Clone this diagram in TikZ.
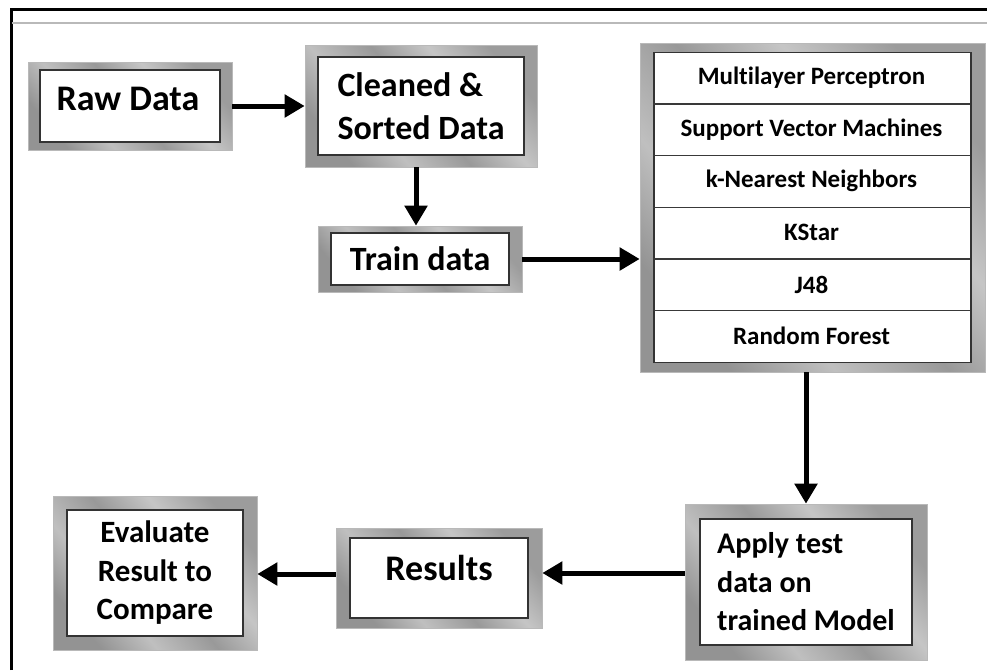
\documentclass[tikz,border=0pt]{standalone}
\usepackage{fontspec}
\setmainfont{Carlito}[Ligatures=NoCommon]
\usetikzlibrary{arrows.meta,calc}
\pgfdeclarehorizontalshading{metal}{100bp}{color(0bp)=(gray!85); color(25bp)=(gray!85); color(37bp)=(gray!50); color(50bp)=(gray!80); color(62bp)=(gray!45); color(75bp)=(gray!78); color(100bp)=(gray!78)}
\tikzset{
  bevel/.style 2 args={shade, shading=metal, shading angle=40, draw=gray!55, line width=0.6pt, inner sep=0pt,
    path picture={\draw[fill=white, draw=gray!40!black, line width=1.4pt]
      ($(path picture bounding box.south west)+(#1,-#2)$) rectangle
      ($(path picture bounding box.north east)+(-#1,#2)$);}},
  bigtxt/.style={font=\bfseries\fontsize{34}{43}\selectfont},
  hugetxt/.style={font=\bfseries\fontsize{36}{43}\selectfont},
  midtxt/.style={font=\bfseries\fontsize{31}{38.5}\selectfont},
  aptxt/.style={font=\bfseries\fontsize{30}{38.5}\selectfont},
  rowtxt/.style={font=\bfseries\fontsize{25}{28}\selectfont, minimum width=317pt, minimum height=51.67pt, inner sep=0pt},
  arr/.style={line width=5pt, -{Triangle[length=20pt,width=22pt]}},
  sep/.style={draw=gray!45!black, line width=1.4pt}
}
\begin{document}
\begin{tikzpicture}[x=1pt,y=-1pt]
\useasboundingbox (0,0) rectangle (987,670);
% page frame
\draw[line width=3pt] (11,670) -- (11,9) -- (987,9);
\draw[gray!55, line width=2pt] (12,23) -- (987,23);
% boxes
\node[bevel={12}{8}, minimum width=204pt, minimum height=88pt] (raw) at (130,106) {};
\node[hugetxt, inner sep=0pt] (rawt) at (128,99) {Raw Data};
\node[bevel={13}{12}, minimum width=232pt, minimum height=122pt, bigtxt, align=left] (clean) at (421,106) {Cleaned \&\\Sorted Data};
\node[bevel={13}{7}, minimum width=204pt, minimum height=66pt, bigtxt] (train) at (420,259) {Train data};
\node[bevel={14}{9.5}, minimum width=345pt, minimum height=329pt] (algs) at (812.5,207.5) {};
\node[bevel={15}{15}, minimum width=242pt, minimum height=156pt, aptxt, align=left] (apply) at (806,582) {Apply test\\data on\\trained Model};
\node[bevel={14}{10}, minimum width=206pt, minimum height=100pt] (results) at (439,578) {};
\node[hugetxt, inner sep=0pt] (rest) at (439,568) {Results};
\node[bevel={14}{14}, minimum width=204pt, minimum height=154pt, midtxt, align=center] (eval) at (155,573) {Evaluate\\Result to\\Compare};
% algorithm rows
\node[rowtxt] (r1) at (811.5,77.8) {Multilayer Perceptron};
\node[rowtxt] (r2) at (811.5,129.5) {Support Vector Machines};
\node[rowtxt] (r3) at (811.5,181.2) {k-Nearest Neighbors};
\node[rowtxt] (r4) at (811.5,232.8) {KStar};
\node[rowtxt] (r5) at (811.5,284.5) {J48};
\node[rowtxt] (r6) at (811.5,336.2) {Random Forest};
\foreach \r in {r1,r2,r3,r4,r5}{\draw[sep] (\r.south west) -- (\r.south east);}
% connectors
\draw[arr] (raw.east) -- (clean.west);
\coordinate (c1) at ([xshift=-5pt]clean.south);
\draw[arr] (c1) -- (c1 |- train.north);
\draw[arr] (train.east) -- (train.east -| algs.west);
\draw[arr] (apply.north |- algs.south) -- (apply.north);
\coordinate (a1) at ([yshift=9pt]apply.west);
\draw[arr] (a1) -- (a1 -| results.east);
\coordinate (a2) at ([yshift=4pt]results.west);
\draw[arr] (a2) -- (a2 -| eval.east);
\end{tikzpicture}
\end{document}
